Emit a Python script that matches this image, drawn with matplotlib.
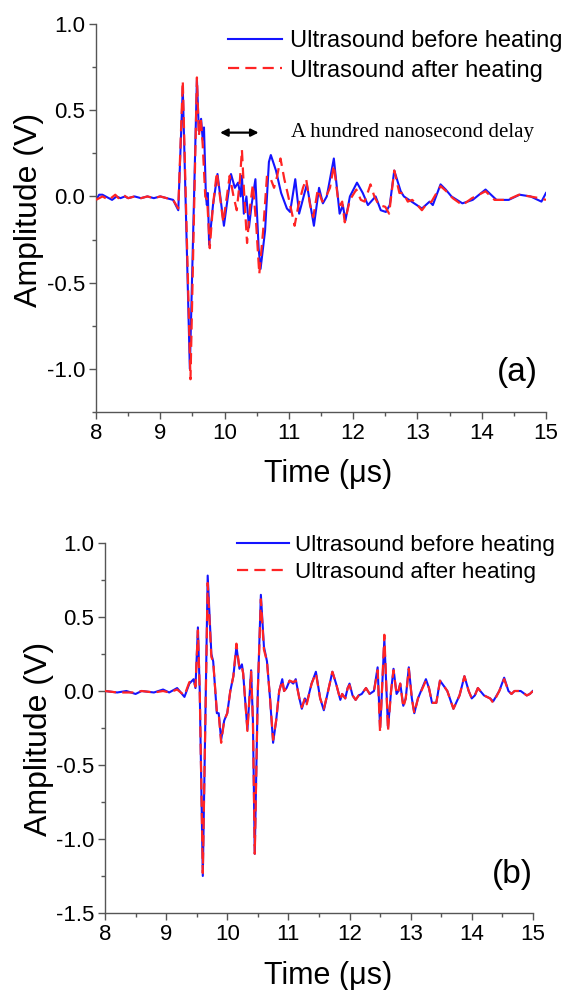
import numpy as np
import matplotlib.pyplot as plt
from matplotlib.ticker import MultipleLocator, FormatStrFormatter

plt.rcParams['font.family'] = ['Liberation Sans', 'DejaVu Sans']
plt.rcParams['axes.unicode_minus'] = False

# ------------------------------------------------------------
# Panel (a): signals (time in us, amplitude in V)
# ------------------------------------------------------------
t_a_before = [8.0, 8.05, 8.1, 8.2, 8.25, 8.32, 8.38, 8.45, 8.5, 8.6, 8.7, 8.8, 8.9, 9.0,
              9.1, 9.2, 9.28, 9.35, 9.46, 9.57, 9.6, 9.635, 9.66, 9.68, 9.71, 9.725, 9.74,
              9.76, 9.82, 9.89, 9.99, 10.1, 10.16, 10.21, 10.25, 10.27, 10.3, 10.34, 10.38,
              10.42, 10.48, 10.53, 10.56, 10.63, 10.69, 10.72, 10.8, 10.88, 10.97, 11.02,
              11.1, 11.16, 11.28, 11.39, 11.47, 11.53, 11.59, 11.7, 11.79, 11.84, 11.88,
              11.95, 12.06, 12.15, 12.23, 12.35, 12.43, 12.51, 12.57, 12.64, 12.74, 12.79,
              12.91, 13.07, 13.19, 13.24, 13.36, 13.44, 13.53, 13.7, 13.86, 14.06, 14.23,
              14.42, 14.59, 14.76, 14.93, 15.0]
v_a_before = [-0.02, 0.01, 0.01, -0.01, -0.02, 0.0, -0.01, 0.0, -0.01, 0.0, -0.01, 0.0, -0.01, 0.0,
              -0.01, -0.02, -0.08, 0.63, -1.0, 0.68, 0.38, 0.45, 0.33, 0.4, 0.0, -0.05, 0.02,
              -0.28, -0.05, 0.13, -0.17, 0.13, 0.05, 0.08, 0.0, 0.12, -0.1, 0.0, -0.18,
              -0.05, 0.1, -0.3, -0.42, -0.2, 0.2, 0.24, 0.15, 0.02, -0.07, -0.09,
              0.1, -0.1, 0.07, -0.17, 0.05, -0.04, 0.0, 0.22, -0.1, -0.05, -0.14,
              0.0, 0.08, 0.02, -0.05, 0.0, -0.08, -0.09, -0.05, 0.15, 0.03, 0.0,
              -0.03, -0.07, -0.03, -0.05, 0.07, 0.04, 0.0, -0.04, -0.02, 0.04, -0.02,
              -0.02, 0.01, 0.0, -0.03, 0.02]

t_a_after = [8.0, 8.1, 8.2, 8.3, 8.35, 8.42, 8.5, 8.6, 8.7, 8.8, 8.9, 9.0, 9.1, 9.2, 9.28,
             9.35, 9.47, 9.57, 9.6, 9.63, 9.66, 9.7, 9.73, 9.77, 9.82, 9.88, 9.98, 10.08,
             10.14, 10.19, 10.24, 10.27, 10.3, 10.35, 10.4, 10.44, 10.49, 10.54, 10.6,
             10.66, 10.72, 10.77, 10.82, 10.87, 10.93, 10.98, 11.05, 11.09, 11.15, 11.22,
             11.27, 11.33, 11.38, 11.45, 11.52, 11.58, 11.64, 11.7, 11.76, 11.8, 11.83,
             11.87, 11.95, 12.05, 12.12, 12.18, 12.27, 12.33, 12.4, 12.5, 12.56, 12.64,
             12.72, 12.78, 12.85, 12.92, 13.0, 13.07, 13.15, 13.22, 13.36, 13.45, 13.55,
             13.7, 13.85, 14.06, 14.2, 14.4, 14.58, 14.75, 14.9, 15.0]
v_a_after = [-0.02, 0.0, -0.02, 0.01, -0.01, 0.01, -0.01, 0.0, -0.01, 0.0, -0.01, 0.0, -0.01, -0.02, -0.07,
             0.67, -1.06, 0.69, 0.35, 0.45, 0.3, 0.0, -0.02, -0.3, -0.05, 0.14, -0.15, 0.12,
             0.0, -0.08, 0.1, 0.27, 0.05, -0.27, -0.05, 0.07, -0.15, -0.45, -0.2,
             0.12, 0.1, 0.05, 0.12, 0.22, 0.1, 0.02, -0.1, -0.17, -0.05, 0.05,
             0.1, -0.05, -0.12, 0.04, -0.03, 0.0, 0.05, 0.18, 0.0, -0.05, -0.03,
             -0.15, -0.02, 0.04, -0.02, -0.03, 0.07, 0.0, -0.05, -0.06, -0.1, 0.15,
             0.02, 0.02, -0.03, -0.02, -0.05, -0.08, -0.04, -0.03, 0.06, 0.03, -0.01,
             -0.05, -0.01, 0.03, -0.02, -0.02, 0.01, 0.0, -0.01, -0.02]

# ------------------------------------------------------------
# Panel (b)
# ------------------------------------------------------------
t_b_before = [8.0, 8.2, 8.35, 8.5, 8.6, 8.8, 8.95, 9.05, 9.18, 9.3, 9.38, 9.45, 9.48, 9.52,
              9.55, 9.6, 9.68, 9.74, 9.77, 9.83, 9.86, 9.9, 9.95, 10.0, 10.05, 10.1, 10.15,
              10.2, 10.24, 10.26, 10.3, 10.33, 10.37, 10.39, 10.42, 10.45, 10.5, 10.55,
              10.6, 10.65, 10.7, 10.75, 10.8, 10.85, 10.9, 10.93, 10.97, 11.02, 11.08,
              11.12, 11.18, 11.22, 11.27, 11.3, 11.38, 11.45, 11.52, 11.58, 11.65, 11.72,
              11.78, 11.85, 11.88, 11.93, 11.97, 12.0, 12.05, 12.1, 12.15, 12.2, 12.27,
              12.33, 12.4, 12.46, 12.5, 12.52, 12.57, 12.63, 12.68, 12.72, 12.77, 12.8,
              12.83, 12.88, 12.92, 12.97, 13.02, 13.06, 13.12, 13.25, 13.3, 13.35, 13.42,
              13.48, 13.55, 13.6, 13.7, 13.8, 13.88, 13.95, 14.0, 14.05, 14.1, 14.2, 14.3,
              14.35, 14.45, 14.53, 14.6, 14.65, 14.7, 14.8, 14.9, 14.95, 15.0]
v_b_before = [0.0, -0.01, 0.0, -0.02, 0.0, -0.01, 0.01, -0.01, 0.02, -0.04, 0.05, 0.08, 0.02, 0.43,
              0.0, -1.25, 0.78, 0.25, 0.2, -0.15, -0.15, -0.33, -0.2, -0.15, 0.0, 0.1, 0.3,
              0.15, 0.18, 0.12, -0.1, -0.26, 0.0, 0.14, -0.2, -1.1, 0.0, 0.65,
              0.3, 0.2, -0.05, -0.35, -0.2, 0.0, 0.08, 0.0, 0.02, 0.07, 0.05,
              0.08, -0.05, -0.12, -0.05, -0.08, 0.05, 0.13, -0.05, -0.13, 0.0, 0.13,
              0.05, -0.06, -0.02, -0.05, 0.02, 0.05, -0.03, -0.06, -0.03, -0.02, 0.02,
              -0.02, 0.0, 0.16, -0.25, -0.1, 0.35, -0.25, 0.0, 0.15, -0.02, 0.0,
              0.05, -0.1, -0.05, 0.16, -0.05, -0.15, -0.05, 0.08, 0.02, -0.08, -0.08,
              0.07, 0.03, 0.0, -0.12, -0.03, 0.1, 0.0, -0.05, -0.03, 0.02, -0.03, -0.05,
              -0.07, 0.0, 0.09, 0.0, -0.02, 0.0, 0.0, -0.03, -0.02, 0.0]

t_b_after = [8.0, 8.2, 8.35, 8.5, 8.6, 8.8, 8.95, 9.05, 9.18, 9.3, 9.38, 9.45, 9.48, 9.52,
             9.55, 9.6, 9.68, 9.74, 9.77, 9.83, 9.86, 9.9, 9.95, 10.0, 10.05, 10.1, 10.15,
             10.2, 10.24, 10.26, 10.3, 10.33, 10.37, 10.39, 10.42, 10.45, 10.5, 10.55,
             10.6, 10.65, 10.7, 10.75, 10.8, 10.85, 10.9, 10.93, 10.97, 11.02, 11.08,
             11.12, 11.18, 11.22, 11.27, 11.3, 11.38, 11.45, 11.52, 11.58, 11.65, 11.72,
             11.78, 11.85, 11.88, 11.93, 11.97, 12.0, 12.05, 12.1, 12.15, 12.2, 12.27,
             12.33, 12.4, 12.46, 12.5, 12.52, 12.57, 12.63, 12.68, 12.72, 12.77, 12.8,
             12.83, 12.88, 12.92, 12.97, 13.02, 13.06, 13.12, 13.25, 13.3, 13.35, 13.42,
             13.48, 13.55, 13.6, 13.7, 13.8, 13.88, 13.95, 14.0, 14.05, 14.1, 14.2, 14.3,
             14.35, 14.45, 14.53, 14.6, 14.65, 14.7, 14.8, 14.9, 14.95, 15.0]
v_b_after = [0.0, -0.01, -0.01, -0.01, 0.0, -0.01, 0.0, -0.01, 0.01, -0.03, 0.06, 0.07, 0.03, 0.41,
             0.0, -1.23, 0.73, 0.23, 0.2, -0.14, -0.15, -0.35, -0.2, -0.15, 0.0, 0.1, 0.32,
             0.15, 0.16, 0.12, -0.1, -0.27, 0.0, 0.13, -0.2, -1.1, 0.0, 0.62,
             0.28, 0.2, -0.05, -0.33, -0.2, 0.0, 0.07, 0.0, 0.02, 0.07, 0.06,
             0.07, -0.05, -0.11, -0.05, -0.09, 0.05, 0.12, -0.05, -0.12, 0.0, 0.13,
             0.05, -0.06, -0.02, -0.05, 0.02, 0.04, -0.03, -0.06, -0.03, -0.02, 0.02,
             -0.02, 0.0, 0.14, -0.28, -0.1, 0.38, -0.27, 0.0, 0.14, -0.02, 0.0,
             0.05, -0.11, -0.05, 0.15, -0.05, -0.15, -0.05, 0.07, 0.02, -0.08, -0.08,
             0.07, 0.03, 0.0, -0.12, -0.03, 0.1, 0.0, -0.05, -0.03, 0.02, -0.03, -0.05,
             -0.08, 0.0, 0.08, 0.0, -0.02, 0.0, 0.0, -0.03, -0.02, 0.0]

label_before = 'Ultrasound before heating'
label_after = 'Ultrasound after heating'
spine_col = '#555555'
blue = '#1414ff'
red = '#ff2424'

fig = plt.figure(figsize=(5.66, 9.9), dpi=100)
ax1 = fig.add_axes([0.1696, 0.5838, 0.795, 0.392])
ax2 = fig.add_axes([0.1855, 0.0778, 0.756, 0.3737])


def style_axis(ax, ymin, xlab_xy, ylab_xy):
    ax.set_xlim(8, 15)
    ax.set_ylim(ymin, 1.0)
    ax.spines['top'].set_visible(False)
    ax.spines['right'].set_visible(False)
    for s in ('left', 'bottom'):
        ax.spines[s].set_color(spine_col)
        ax.spines[s].set_linewidth(1.0)
    ax.xaxis.set_major_locator(MultipleLocator(1))
    ax.xaxis.set_minor_locator(MultipleLocator(0.5))
    ax.yaxis.set_major_locator(MultipleLocator(0.5))
    ax.yaxis.set_minor_locator(MultipleLocator(0.25))
    ax.yaxis.set_major_formatter(FormatStrFormatter('%.1f'))
    ax.tick_params(which='major', direction='out', length=5, width=1, color=spine_col,
                   labelsize=16, pad=3)
    ax.tick_params(which='minor', direction='out', length=3, width=1, color=spine_col)
    ax.set_xlabel('Time (\u03bcs)', fontsize=22)
    ax.set_ylabel('Amplitude (V)', fontsize=23)
    ax.xaxis.set_label_coords(*xlab_xy)
    ax.yaxis.set_label_coords(*ylab_xy)


# --- (a) ---
ax1.plot(t_a_before, v_a_before, color=blue, lw=1.5, label=label_before, zorder=2)
ax1.plot(t_a_after, v_a_after, color=red, lw=1.6, ls=(0, (5, 2.8)),
         label=label_after, zorder=3)
style_axis(ax1, -1.25, (0.515, -0.122), (-0.115, 0.52))
ax1.legend(loc='upper left', bbox_to_anchor=(0.293, 0.985), frameon=False, fontsize=17,
           handlelength=2.3, handletextpad=0.35, labelspacing=0.33, borderpad=0,
           borderaxespad=0)
ax1.annotate('', xy=(9.93, 0.37), xytext=(10.53, 0.37),
             arrowprops=dict(arrowstyle='<|-|>', color='black', lw=1.6,
                             mutation_scale=11, shrinkA=0, shrinkB=0))
ax1.text(11.04, 0.37, 'A hundred nanosecond delay', family=['Liberation Serif'],
         fontsize=15, va='center', ha='left')
ax1.text(14.55, -1.02, '(a)', fontsize=24, ha='center', va='center')

# --- (b) ---
ax2.plot(t_b_before, v_b_before, color=blue, lw=1.5, label=label_before, zorder=2)
ax2.plot(t_b_after, v_b_after, color=red, lw=1.6, ls=(0, (5, 2.8)),
         label=label_after, zorder=3)
style_axis(ax2, -1.5, (0.521, -0.13), (-0.12, 0.47))
ax2.legend(loc='upper left', bbox_to_anchor=(0.308, 1.022), frameon=False, fontsize=16.2,
           handlelength=2.3, handletextpad=0.3, labelspacing=0.25, borderpad=0,
           borderaxespad=0)
ax2.text(14.66, -1.24, '(b)', fontsize=24, ha='center', va='center')

fig.savefig('out.png', dpi=100)
